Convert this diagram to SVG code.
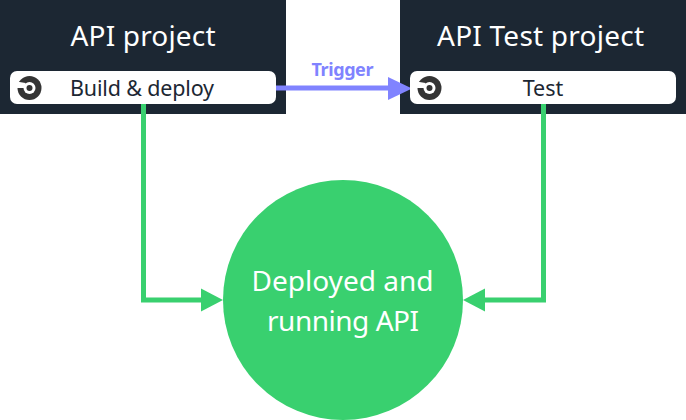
<svg xmlns="http://www.w3.org/2000/svg" width="686" height="420" viewBox="0 0 686 420">
  <style>
    text { font-family: "Noto Sans", "Open Sans", sans-serif; text-anchor: middle; }
    .panel { fill: #1c2733; }
    .pill { fill: #fff; }
    .title { fill: #fff; font-size: 28px; }
    .job { fill: #1c2733; font-size: 21.5px; }
    .logo-mark { fill: #343434; }
    .logo-cut { fill: #fff; }
    .green-line { fill: none; stroke: #39d06f; stroke-width: 5; }
    .green-head { fill: #39d06f; }
  </style>
  <defs>
    <!-- CI logo: dark disc, white inner circle with a notch to the left, centre dot -->
    <g id="logo">
      <circle class="logo-mark" r="12"/>
      <circle class="logo-cut" r="6"/>
      <path class="logo-cut" d="M-13 -6.500L-4 -5V0H-13Z"/>
      <circle class="logo-mark" r="3"/>
    </g>
  </defs>

  <g id="api-project">
    <rect class="panel" x="0" y="0" width="286" height="114"/>
    <text class="title" x="143" y="46" textLength="145">API project</text>
  </g>
  <g id="api-test-project">
    <rect class="panel" x="400" y="0" width="286" height="114"/>
    <text class="title" x="540.500" y="46" textLength="207">API Test project</text>
  </g>

  <g id="connectors">
    <path class="green-line" d="M143.500 104V300H203"/>
    <path class="green-head" d="M201 288.500L223 300L201 311.500Z"/>
    <path class="green-line" d="M543.500 104V300H484"/>
    <path class="green-head" d="M485 288.500L463 300L485 311.500Z"/>
    <path fill="none" stroke="#8083ff" stroke-width="5" d="M276 88H390"/>
    <path fill="#8083ff" d="M388 77L412 88.500L388 100Z"/>
    <text x="342.500" y="76" font-size="18" font-weight="700" fill="#8083ff" textLength="62">Trigger</text>
  </g>

  <g id="build-deploy">
    <rect class="pill" x="10" y="71" width="266" height="33" rx="7"/>
    <use href="#logo" x="29.500" y="88"/>
    <text class="job" x="142" y="96" textLength="144">Build &amp; deploy</text>
  </g>
  <g id="test">
    <rect class="pill" x="410" y="71" width="266" height="33" rx="7"/>
    <use href="#logo" x="429.500" y="88"/>
    <text class="job" x="543" y="96">Test</text>
  </g>

  <g id="deployed-api">
    <circle cx="343" cy="300" r="120" fill="#39d06f"/>
    <text x="342.500" y="291" font-size="28" fill="#fff" textLength="182">Deployed and</text>
    <text x="343" y="331" font-size="28" fill="#fff" textLength="152">running API</text>
  </g>
</svg>
